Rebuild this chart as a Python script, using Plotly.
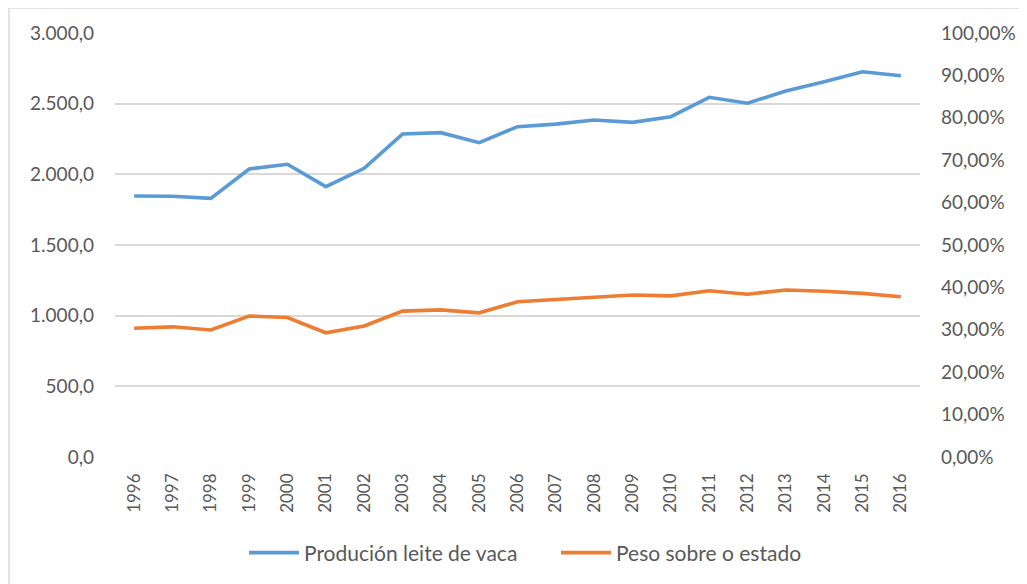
import plotly.graph_objects as go

years = [str(y) for y in range(1996, 2017)]
producion = [1847, 1845, 1830, 2038, 2071, 1913, 2043, 2285, 2295, 2224, 2337,
             2355, 2384, 2368, 2408, 2545, 2503, 2590, 2655, 2726, 2698]
peso = [0.3035, 0.307, 0.2995, 0.3325, 0.329, 0.293, 0.309, 0.344, 0.347, 0.340, 0.366,
        0.372, 0.378, 0.382, 0.380, 0.392, 0.384, 0.394, 0.391, 0.386, 0.378]

font_fam = "Lato, 'Open Sans', sans-serif"
gray = "#595959"

fig = go.Figure()
fig.add_trace(go.Scatter(x=years, y=producion, name="Produción leite de vaca",
                         mode="lines", line=dict(color="#5b9bd5", width=3.6)))
fig.add_trace(go.Scatter(x=years, y=peso, name="Peso sobre o estado", yaxis="y2",
                         mode="lines", line=dict(color="#ed7d31", width=3.6)))

# page body adds an 8px offset; coordinates below are in figure space
W, H = 1027, 584
L, R, T, B = 107, 115, 25, 135
pw, ph = W - L - R, H - T - B

def px(x):
    return (x - L) / pw

def py(y):
    return (H - B - y) / ph

fig.update_layout(
    width=W, height=H,
    margin=dict(l=L, r=R, t=T, b=B, pad=0),
    paper_bgcolor="white", plot_bgcolor="white",
    separators=",.",
    font=dict(family=font_fam, size=19, color=gray),
    showlegend=True,
    legend=dict(orientation="h", x=px(236), xanchor="left", y=py(545), yanchor="middle",
                font=dict(size=21, color=gray), itemwidth=50, tracegroupgap=0,
                entrywidth=247, entrywidthmode="pixels"),
    xaxis=dict(type="category", range=[-0.5, 20.5], showgrid=False, showline=False,
               zeroline=False, tickangle=-90, ticks="", ticklabelstandoff=12,
               tickfont=dict(size=17, color=gray)),
    yaxis=dict(range=[0, 3000], dtick=500, tickformat=",.1f", showgrid=True,
               gridcolor="#d9d9d9", gridwidth=1.5, zeroline=False, showline=False,
               ticks="", ticklabelstandoff=20, tickfont=dict(size=19, color=gray)),
    yaxis2=dict(range=[0, 1], dtick=0.1, tickformat=".2%", overlaying="y", side="right",
                showgrid=False, zeroline=False, showline=False, ticks="",
                ticklabelstandoff=20, tickfont=dict(size=19, color=gray)),
    shapes=[
        dict(type="line", xref="paper", yref="paper", x0=px(1), x1=px(1), y0=py(0), y1=py(600),
             line=dict(color="#d9d9d9", width=1.5)),
        dict(type="line", xref="paper", yref="paper", x0=px(1), x1=px(1040), y0=py(0), y1=py(0),
             line=dict(color="#d9d9d9", width=1.5)),
    ],
)

fig.write_html("out.html")
